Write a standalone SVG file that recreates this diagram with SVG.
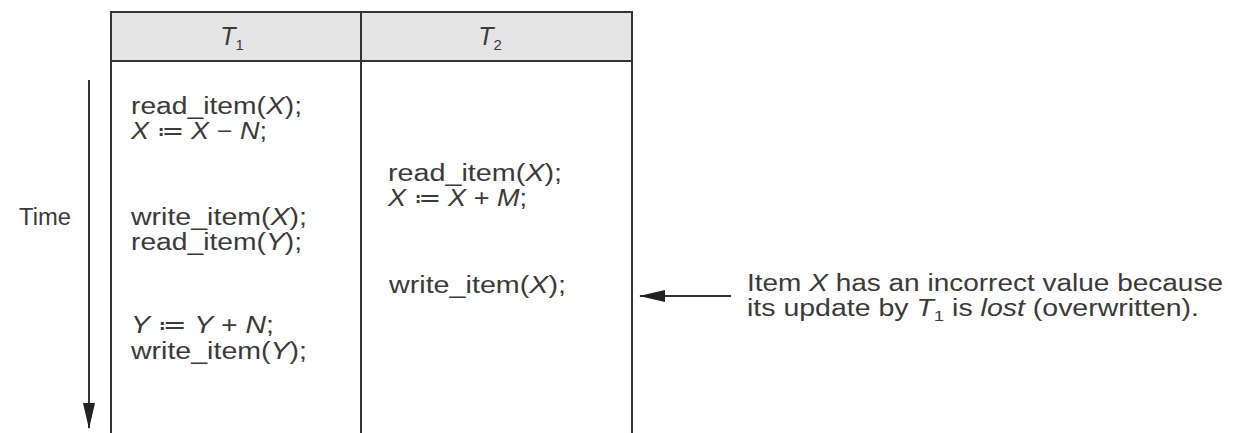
<svg xmlns="http://www.w3.org/2000/svg" width="1236" height="433" viewBox="0 0 1236 433">
<style>
text{font-family:"Liberation Sans",Arial,sans-serif;font-size:23px;fill:#3a3a3a}
.i{font-style:italic}
.sub{font-size:15px;font-style:normal}
.hd{font-size:25px}
.ln{stroke:#333;stroke-width:2;fill:none}
</style>
<defs>
<marker id="ah" markerWidth="26" markerHeight="12" refX="25" refY="6" orient="auto" markerUnits="userSpaceOnUse" viewBox="0 0 26 12">
<path d="M0,0 L26,6 L0,12 z" fill="#222"/>
</marker>
</defs>
<rect width="1236" height="433" fill="#fff"/>
<g id="table">
<rect x="111" y="12" width="521" height="49" fill="#e5e5e5"/>
<path class="ln" d="M111,433 V12 H632 V433 M361,12 V433 M111,61 H632"/>
<text x="232" y="45" text-anchor="middle" class="i hd">T<tspan class="sub" dy="5">1</tspan></text>
<text x="490" y="45" text-anchor="middle" class="i hd">T<tspan class="sub" dy="5">2</tspan></text>
</g>
<g id="t1">
<text x="131" y="114" textLength="171" lengthAdjust="spacingAndGlyphs">read_item(<tspan class="i">X</tspan>);</text>
<text x="131" y="139" textLength="136" lengthAdjust="spacingAndGlyphs"><tspan class="i">X</tspan> ≔ <tspan class="i">X</tspan> − <tspan class="i">N</tspan>;</text>
<text x="131" y="225" textLength="176" lengthAdjust="spacingAndGlyphs">write_item(<tspan class="i">X</tspan>);</text>
<text x="131" y="250" textLength="171" lengthAdjust="spacingAndGlyphs">read_item(<tspan class="i">Y</tspan>);</text>
<text x="131" y="333" textLength="143" lengthAdjust="spacingAndGlyphs"><tspan class="i">Y</tspan> ≔ <tspan class="i">Y</tspan> + <tspan class="i">N</tspan>;</text>
<text x="131" y="359" textLength="176" lengthAdjust="spacingAndGlyphs">write_item(<tspan class="i">Y</tspan>);</text>
</g>
<g id="t2">
<text x="388" y="181" textLength="174" lengthAdjust="spacingAndGlyphs">read_item(<tspan class="i">X</tspan>);</text>
<text x="388" y="206" textLength="139" lengthAdjust="spacingAndGlyphs"><tspan class="i">X</tspan> ≔ <tspan class="i">X</tspan> + <tspan class="i">M</tspan>;</text>
<text x="389" y="293" textLength="177" lengthAdjust="spacingAndGlyphs">write_item(<tspan class="i">X</tspan>);</text>
</g>
<g id="time">
<text x="19" y="225" textLength="52" lengthAdjust="spacingAndGlyphs">Time</text>
</g>
<g id="note">
<text x="747" y="291" textLength="476" lengthAdjust="spacingAndGlyphs">Item <tspan class="i">X</tspan> has an incorrect value because</text>
<text x="747" y="316" textLength="452" lengthAdjust="spacingAndGlyphs">its update by <tspan class="i">T</tspan><tspan class="sub" dy="5">1</tspan><tspan dy="-5"> is </tspan><tspan class="i">lost</tspan> (overwritten).</text>
</g>
<g id="connectors">
<line class="ln" x1="89" y1="80" x2="89" y2="428" marker-end="url(#ah)"/>
<line class="ln" x1="731" y1="296" x2="640" y2="296" marker-end="url(#ah)"/>
</g>
</svg>
